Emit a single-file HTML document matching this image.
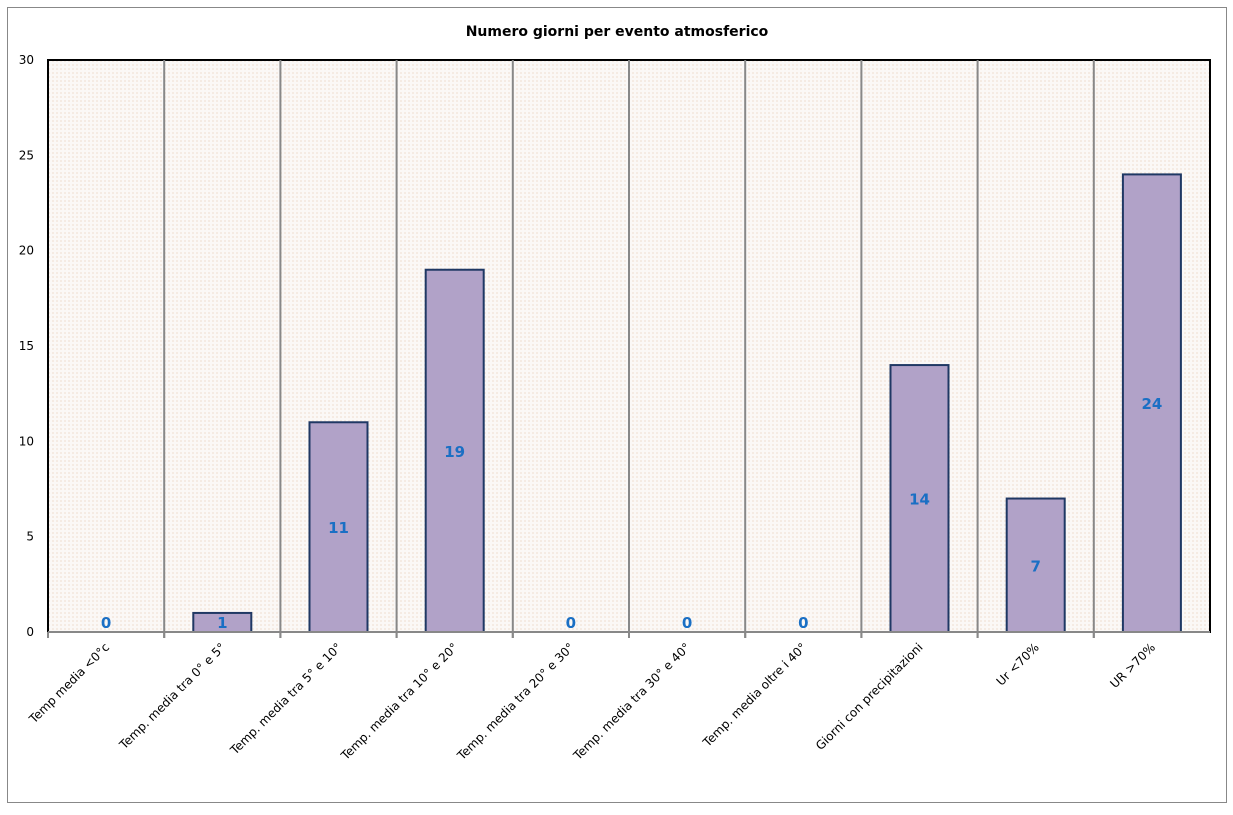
<!DOCTYPE html>
<html><head><meta charset="utf-8"><style>
body{margin:0;background:#fff;}
svg text{font-family:"DejaVu Sans","Liberation Sans",sans-serif;}
</style></head><body>
<svg id="chart" width="1233" height="810" xmlns="http://www.w3.org/2000/svg">
<defs><pattern id="pat" width="4" height="4" patternUnits="userSpaceOnUse"><rect width="4" height="4" fill="#fbf8f6"/><rect width="2" height="2" fill="#f5ebe3"/></pattern></defs>
<rect x="7.5" y="7.5" width="1219" height="795" fill="#fff" stroke="#888"/>
<text x="617" y="36" text-anchor="middle" font-size="14" font-weight="bold">Numero giorni  per evento atmosferico</text>
<rect x="48" y="60" width="1162" height="572" fill="url(#pat)" stroke="#000" stroke-width="2"/>
<g id="grid"></g><g id="bars"></g><g id="axes"></g>
</svg>
<script>
const categories=["Temp media <0°c","Temp. media tra 0° e 5°","Temp. media tra 5° e 10°","Temp. media tra 10° e 20°","Temp. media tra 20° e 30°","Temp. media tra 30° e 40°","Temp. media oltre i 40°","Giorni con precipitazioni","Ur  <70%","UR >70%"];
const values=[0,1,11,19,0,0,0,14,7,24];
const yTicks=[0,5,10,15,20,25,30];
const NS="http://www.w3.org/2000/svg";
const X0=48,X1=1210,Y0=632,Y1=60,YMAX=30;
const bw=(X1-X0)/categories.length;
const y=v=>Y0-(v/YMAX)*(Y0-Y1);
const xc=i=>X0+bw*(i+0.5);
function mk(t,a,p){const e=document.createElementNS(NS,t);for(const k in a)e.setAttribute(k,a[k]);p.appendChild(e);return e;}
const grid=document.getElementById('grid'),bars=document.getElementById('bars'),axes=document.getElementById('axes');
for(let i=1;i<categories.length;i++){
  const l=mk('line',{x1:X0+bw*i,x2:X0+bw*i,y1:Y1,y2:Y0+6,stroke:'#888','stroke-width':2},grid);
  
  
}
const ax=mk('line',{x1:X0,x2:X1,y1:Y0,y2:Y0,stroke:'#888','stroke-width':2},axes);


yTicks.forEach(t=>{
  const tx=mk('text',{x:34,y:y(t)+4,'text-anchor':'end','font-size':12,fill:'#000'},axes);
  tx.textContent=t;
  
  
});
categories.forEach((c,i)=>{
  const v=values[i],w=58;
  if(v>0){
    const r=mk('rect',{x:xc(i)-w/2,y:y(v),width:w,height:Y0-y(v),fill:'#b1a2c8',stroke:'#1f3864','stroke-width':2},bars);
    
    
  }
  const tk=mk('line',{x1:X0+bw*i,x2:X0+bw*i,y1:Y0,y2:Y0+6,stroke:'#888','stroke-width':2},axes);
  
  
  const lv=mk('text',{x:xc(i),y:(v>1?(y(v)+Y0)/2:Y0-10)+6,'text-anchor':'middle','font-size':15,'font-weight':'bold',fill:'#1a6fc4'},bars);
  lv.textContent=v;
  
  
  const lb=mk('text',{x:xc(i)+4,y:Y0+16,'text-anchor':'end','font-size':12,fill:'#000',transform:`rotate(-45 ${xc(i)+4} ${Y0+16})`},axes);
  lb.textContent=c;
  
  
});
</script>
</body></html>
